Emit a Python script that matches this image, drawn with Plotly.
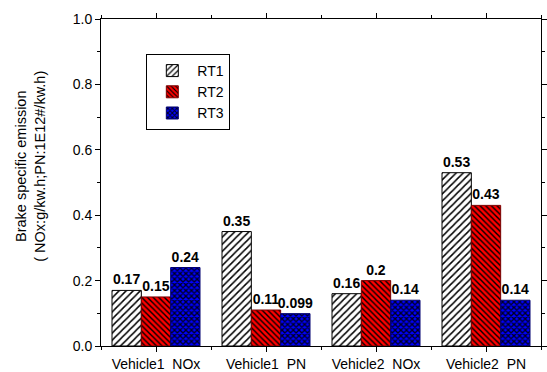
import plotly.graph_objects as go

categories = ["Vehicle1\u00a0\u00a0NOx", "Vehicle1\u00a0\u00a0PN", "Vehicle2\u00a0\u00a0NOx", "Vehicle2\u00a0\u00a0PN"]
rt1 = [0.17, 0.35, 0.16, 0.53]
rt2 = [0.15, 0.11, 0.2, 0.43]
rt3 = [0.24, 0.099, 0.14, 0.14]
labels1 = ["0.17", "0.35", "0.16", "0.53"]
labels2 = ["0.15", "0.11", "0.2", "0.43"]
labels3 = ["0.24", "0.099", "0.14", "0.14"]
series_names = ["RT1", "RT2", "RT3"]

x = list(range(len(categories)))

styles = [
    dict(color="white", line="black", shape="/", fg="black", size=5, sol=0.3),
    dict(color="#ff0000", line="#7a0000", shape="\\", fg="black", size=4, sol=0.35),
    dict(color="#0000ff", line="#000070", shape="x", fg="#000020", size=4, sol=0.55),
]

fig = go.Figure()
for name, vals, labs, st in zip(series_names, [rt1, rt2, rt3], [labels1, labels2, labels3], styles):
    fig.add_trace(go.Bar(
        x=x, y=vals, name=name,
        text=labs, textposition="outside", constraintext="none", cliponaxis=False,
        textfont=dict(family="Arial, Liberation Sans", size=14, color="black", weight="bold"),
        marker=dict(
            color=st["color"],
            line=dict(color=st["line"], width=1),
            pattern=dict(shape=st["shape"], fgcolor=st["fg"], fgopacity=1, size=st["size"], solidity=st["sol"]),
        ),
    ))

fig.update_layout(
    width=547, height=372,
    margin=dict(l=101, r=0, t=19, b=24),
    paper_bgcolor="white", plot_bgcolor="white",
    barmode="group", bargap=0.2, bargroupgap=0,
    font=dict(family="Arial, Liberation Sans", size=14, color="black"),
    showlegend=True,
    legend=dict(
        x=0.103, y=0.893, xanchor="left", yanchor="top",
        bordercolor="black", borderwidth=1, bgcolor="white",
        font=dict(size=14), tracegroupgap=0, itemwidth=40,
    ),
    xaxis=dict(
        range=[-0.5, 3.5], tickvals=x, ticktext=categories,
        showgrid=False, zeroline=False,
        showline=True, linecolor="black", linewidth=1, mirror="ticks",
        ticks="outside", ticklen=5, tickcolor="black",
        minor=dict(tick0=0.5, dtick=1, ticks="outside", ticklen=3, tickcolor="black"),
        tickfont=dict(size=14),
    ),
    yaxis=dict(
        range=[0, 1], dtick=0.2, tickformat=".1f",
        showgrid=False, zeroline=False,
        showline=True, linecolor="black", linewidth=1, mirror="ticks",
        ticks="outside", ticklen=5, tickcolor="black",
        minor=dict(dtick=0.1, ticks="outside", ticklen=3, tickcolor="black"),
        tickfont=dict(size=14),
    ),
    annotations=[dict(
        text="Brake specific emission<br>( NOx:g/kw.h;PN:1E12#/kw.h)",
        xref="paper", yref="paper", x=-0.16, y=0.55,
        xanchor="center", yanchor="middle", textangle=-90,
        showarrow=False, font=dict(size=14.5), align="center",
    )],
)

fig.write_html("out.html")
